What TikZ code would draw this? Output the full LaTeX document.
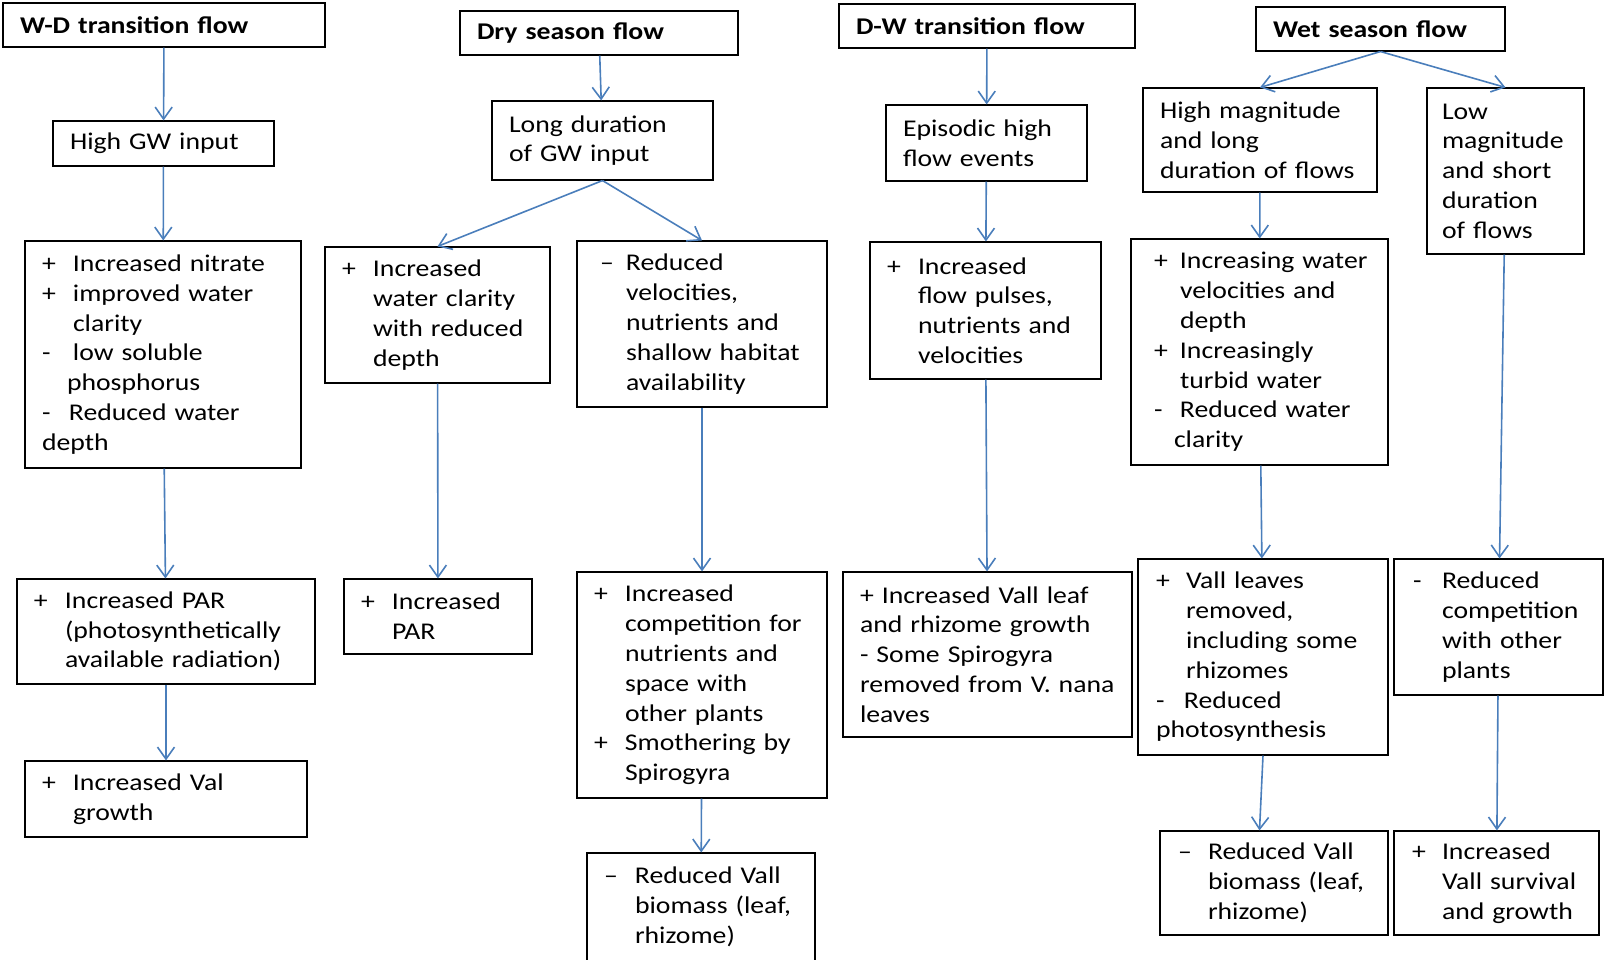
\documentclass[tikz,border=0pt]{standalone}
\usepackage{fontspec}
\setmainfont{Carlito}[FakeStretch=1.155]
\usepackage{tikz}
\usetikzlibrary{arrows.meta}
\usepackage{xcolor}
\definecolor{flowblue}{RGB}{74,126,187}
\setlength{\parindent}{0pt}
\hyphenpenalty=10000
\newcommand{\bplus}{\makebox[31pt][l]{+}}
\newcommand{\bminus}{\makebox[31pt][l]{-}}
\newcommand{\bdash}{\makebox[31pt][l]{--}}
\newcommand{\bind}{\hspace*{31pt}}

\begin{document}
\begin{tikzpicture}[x=1pt,y=-1pt,
  box/.style={rectangle,draw=black,line width=1.1pt,align=left,
    inner xsep=17pt,inner ysep=3pt,font=\fontsize{24}{29.8}\selectfont},
  title/.style={box,font=\fontsize{24}{29.8}\selectfont\bfseries},
  arr/.style={-{Straight Barb[length=12pt,width=17pt]},flowblue,line width=1.6pt}
]
\useasboundingbox (0,0) rectangle (1604,959);

% W-D transition column
\node[title,text width=288pt,minimum height=44pt] (wdT) at (164,25) {W-D transition flow};
\node[box,text width=187pt,minimum height=45pt] (wdGW) at (163.5,143.5) {High GW input};
\node[box,text width=242pt,minimum height=227pt] (wdEff) at (163,354.5) {
  \bplus Increased nitrate\\
  \bplus improved water\\
  \bind clarity\\
  \bminus low soluble\\
  \hspace*{25pt}phosphorus\\
  \makebox[27pt][l]{-}Reduced water\\
  depth};
\node[box,text width=264pt,minimum height=105pt] (wdPAR) at (166,631.5) {
  \bplus Increased PAR\\
  \bind \mbox{(photosynthetically}\\
  \bind \mbox{available radiation)}};
\node[box,text width=248pt,minimum height=76pt] (wdVal) at (166,799) {
  \bplus Increased Val\\
  \bind growth};
\draw[arr] (wdT) -- (wdGW);
\draw[arr] (wdGW) -- (wdEff);
\draw[arr] (wdEff) -- (wdPAR);
\draw[arr] (wdPAR) -- (wdVal);

% Dry season column
\node[title,text width=244pt,minimum height=44pt] (dryT) at (599,33) {Dry season flow};
\node[box,text width=187pt,minimum height=79pt] (dryGW) at (602.5,140.5) {
  Long duration\\
  of GW input};
\node[box,text width=191pt,minimum height=136pt] (dryClar) at (437.5,315) {
  \bplus Increased\\
  \bind \mbox{water clarity}\\
  \bind \mbox{with reduced}\\
  \bind depth};
\node[box,inner xsep=23pt,text width=204pt,minimum height=166pt] (dryVel) at (702,324) {
  \makebox[26pt][l]{--}Reduced\\
  \hspace*{26pt}velocities,\\
  \hspace*{26pt}\mbox{nutrients and}\\
  \hspace*{26pt}\mbox{shallow habitat}\\
  \hspace*{26pt}availability};
\node[box,text width=154pt,minimum height=75pt] (dryPAR) at (438,616.5) {
  \bplus Increased\\
  \bind PAR};
\node[box,text width=216pt,minimum height=226pt] (dryComp) at (702,685) {
  \bplus Increased\\
  \bind \mbox{competition for}\\
  \bind \mbox{nutrients and}\\
  \bind space with\\
  \bind other plants\\
  \bplus \mbox{Smothering by}\\
  \bind Spirogyra};
\node[box,text width=194pt,minimum height=108pt] (dryBio) at (701,907) {
  \bdash \mbox{Reduced Vall}\\
  \bind \mbox{biomass (leaf,}\\
  \bind rhizome)};
\draw[arr] (dryT) -- (dryGW);
\draw[arr] (dryGW.south) -- (dryClar.north);
\draw[arr] (dryGW.south) -- (dryVel.north);
\draw[arr] (dryClar) -- (dryPAR);
\draw[arr] (dryVel) -- (dryComp);
\draw[arr] (dryComp) -- (dryBio);

% D-W transition column
\node[title,text width=262pt,minimum height=44pt] (dwT) at (987,26) {D-W transition flow};
\node[box,text width=167pt,minimum height=76pt] (dwEp) at (986.5,143) {
  Episodic high\\
  flow events};
\node[box,text width=197pt,minimum height=137pt] (dwEff) at (985.5,310.5) {
  \bplus Increased\\
  \bind \mbox{flow pulses,}\\
  \bind \mbox{nutrients and}\\
  \bind velocities};
\node[box,text width=255pt,minimum height=165pt] (dwVal) at (987.5,654.5) {
  \mbox{+ Increased Vall leaf}\\
  \mbox{and rhizome growth}\\
  \mbox{- Some Spirogyra}\\
  \mbox{removed from V. nana}\\
  leaves};
\draw[arr] (dwT) -- (dwEp);
\draw[arr] (dwEp) -- (dwEff);
\draw[arr] (dwEff) -- (dwVal);

% Wet season column
\node[title,text width=215pt,minimum height=44pt] (wetT) at (1380.5,29) {Wet season flow};
\node[box,text width=200pt,minimum height=104pt] (wetHi) at (1260,140) {
  \mbox{High magnitude}\\
  and long\\
  \mbox{duration of flows}};
\node[box,inner xsep=15pt,text width=127pt,minimum height=166pt] (wetLo) at (1505.5,171) {
  Low\\
  magnitude\\
  and short\\
  duration\\
  of flows};
\node[box,inner xsep=23pt,text width=211pt,minimum height=226pt] (wetEff) at (1259.5,352) {
  \makebox[26pt][l]{+}\mbox{Increasing water}\\
  \hspace*{26pt}\mbox{velocities and}\\
  \hspace*{26pt}depth\\
  \makebox[26pt][l]{+}Increasingly\\
  \hspace*{26pt}\mbox{turbid water}\\
  \makebox[26pt][l]{-}\mbox{Reduced water}\\
  \hspace*{20pt}clarity};
\node[box,inner xsep=18pt,text width=214pt,minimum height=196pt] (wetLeaf) at (1263,657) {
  \makebox[30pt][l]{+}\mbox{Vall leaves}\\
  \hspace*{30pt}removed,\\
  \hspace*{30pt}\mbox{including some}\\
  \hspace*{30pt}rhizomes\\
  \makebox[28pt][l]{-}Reduced\\
  photosynthesis};
\node[box,inner xsep=19pt,text width=171pt,minimum height=136pt] (wetComp) at (1498.5,627) {
  \makebox[29pt][l]{-}Reduced\\
  \hspace*{29pt}competition\\
  \hspace*{29pt}\mbox{with other}\\
  \hspace*{29pt}plants};
\node[box,inner xsep=18pt,text width=192pt,minimum height=104pt] (wetBio) at (1274,883) {
  \makebox[30pt][l]{--}\mbox{Reduced Vall}\\
  \hspace*{30pt}\mbox{biomass (leaf,}\\
  \hspace*{30pt}rhizome)};
\node[box,inner xsep=18pt,text width=169pt,minimum height=104pt] (wetSurv) at (1496.5,883) {
  \makebox[30pt][l]{+}Increased\\
  \hspace*{30pt}\mbox{Vall survival}\\
  \hspace*{30pt}\mbox{and growth}};
\draw[arr] (wetT.south) -- (wetHi.north);
\draw[arr] (wetT.south) -- (wetLo.north);
\draw[arr] (wetHi) -- (wetEff);
\draw[arr] (wetEff) -- (wetLeaf);
\draw[arr] (wetLeaf.south) -- (wetBio.north -| wetEff.south);
\draw[arr] (wetLo) -- (wetComp);
\draw[arr] (wetComp) -- (wetSurv);
\end{tikzpicture}
\end{document}
